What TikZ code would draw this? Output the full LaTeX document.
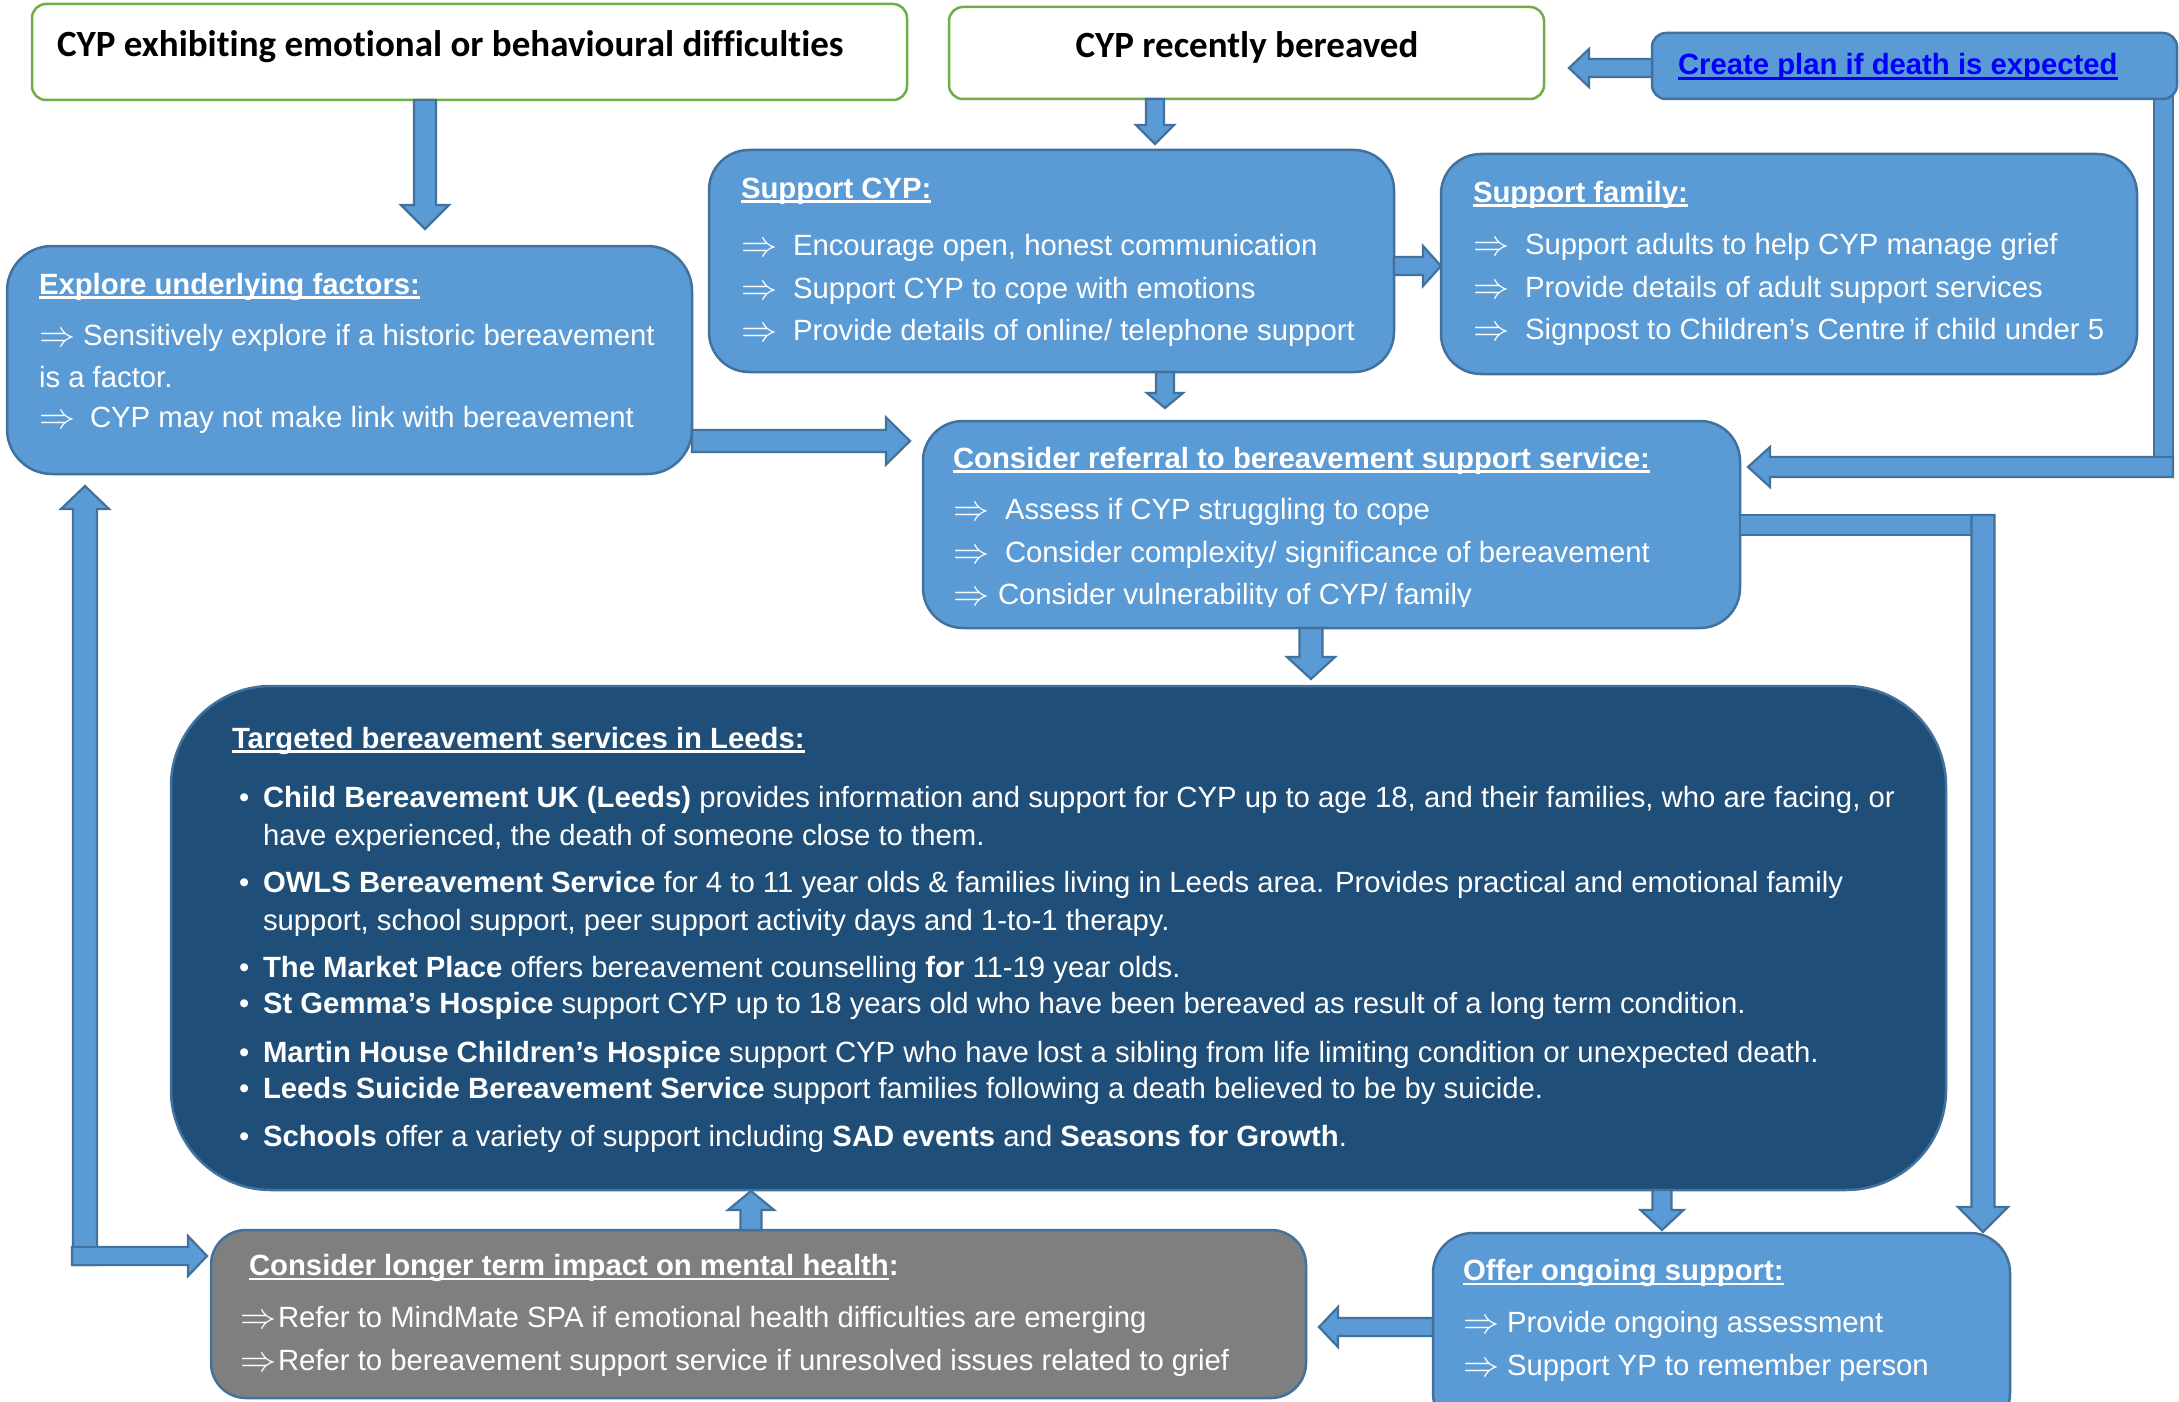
\documentclass[tikz,border=0pt]{standalone}
\usepackage{fontspec}
\setmainfont{Liberation Sans}
\newfontfamily\calibri[Ligatures=NoCommon]{Carlito}
\usetikzlibrary{calc}
\definecolor{bfill}{HTML}{5B9BD5}
\definecolor{bord}{HTML}{41719C}
\definecolor{darkf}{HTML}{1F4E79}
\definecolor{greyf}{HTML}{7F7F7F}
\definecolor{gborder}{HTML}{70AD47}
\definecolor{linkblue}{HTML}{0000FF}
\newcommand\myul[1]{\setbox0\hbox{#1}\rlap{\rule[-0.17em]{\wd0}{0.085em}}\box0}
\newcommand\bodyf{\fontsize{29.3}{35}\selectfont}
\newcommand\darr{\raisebox{-1pt}{\scalebox{1.45}{$\Rightarrow$}}}
\newcommand\blockarrow[5]{%
  \coordinate (bas) at (#1);
  \coordinate (bat) at (#2);
  \coordinate (bah) at ($(bat)!#5pt!(bas)$);
  \filldraw[arrowstyle] ($(bas)!#3pt!90:(bat)$) -- ($(bah)!#3pt!90:(bat)$) -- ($(bah)!#4pt!90:(bat)$) -- (bat) -- ($(bah)!#4pt!-90:(bat)$) -- ($(bah)!#3pt!-90:(bat)$) -- ($(bas)!#3pt!-90:(bat)$) -- cycle;
}
\begin{document}
\begin{tikzpicture}[x=1pt,y=-1pt,
  arrowstyle/.style={fill=bfill,draw=bord,line width=2.2pt,line join=miter},
  topbox/.style={draw=gborder,fill=white,line width=2.5pt,rounded corners=14pt,inner sep=0pt,outer sep=0pt,anchor=north west},
  bluebox/.style={draw=bord,fill=bfill,line width=2.5pt,rounded corners=40pt,inner sep=0pt,outer sep=0pt,anchor=north west},
  txt/.style={anchor=base west,inner sep=0pt,outer sep=0pt,text=white,font=\bodyf},
  ttl/.style={txt,font=\bodyf\bfseries}]
\useasboundingbox (0,0) rectangle (2179,1402);
\fill[white] (0,0) rectangle (2179,1402);

% ---- top boxes
\node[topbox,minimum width=875pt,minimum height=96pt] (cypemo) at (32,4) {};
\node[txt,text=black,font=\calibri\bfseries\fontsize{37}{40}\selectfont] (cypemotxt) at (57,57) {CYP exhibiting emotional or behavioural difficulties};
\node[topbox,minimum width=595pt,minimum height=92pt] (cypbr) at (949,7) {};
\node[txt,anchor=base,text=black,font=\calibri\bfseries\fontsize{37}{40}\selectfont] (cypbrtxt) at (1247,58) {CYP recently bereaved};

% ---- plan box and its connector to referral
\filldraw[arrowstyle] (2154,95) rectangle (2173,477);
\node[bluebox,rounded corners=14pt,minimum width=525pt,minimum height=66pt] (plan) at (1652,33) {};
\node[txt,text=linkblue,font=\bodyf\bfseries] (plantxt) at (1678,75) {\myul{Create plan if death is expected}};
\blockarrow{2173,467}{1748,467}{10}{20}{22}
\blockarrow{plan.west |- 0,68}{1569,68}{9}{19}{20}

% ---- explore box
\node[bluebox,rounded corners=45pt,minimum width=685pt,minimum height=228pt] (explore) at (7,246) {};
\node[ttl] (exptl) at (39,294) {\myul{Explore underlying factors:}};
\node[txt] (expa1) at (39,345) {\darr};
\node[txt] (expl1) at (83,345) {Sensitively explore if a historic bereavement};
\node[txt] (expl2) at (39,387) {is a factor.};
\node[txt] (expa3) at (39,427) {\darr};
\node[txt] (expl3) at (90,427) {CYP may not make link with bereavement};

% ---- support CYP
\node[bluebox,minimum width=685pt,minimum height=222pt] (supcyp) at (709,150) {};
\node[ttl] (suptl) at (741,198) {\myul{Support CYP:}};
\node[txt] (supa1) at (741,255) {\darr};
\node[txt] (supl1) at (793,255) {Encourage open, honest communication};
\node[txt] (supa2) at (741,298) {\darr};
\node[txt] (supl2) at (793,298) {Support CYP to cope with emotions};
\node[txt] (supa3) at (741,340) {\darr};
\node[txt] (supl3) at (793,340) {Provide details of online/ telephone support};

% ---- support family
\node[bluebox,minimum width=696pt,minimum height=220pt] (family) at (1441,154) {};
\node[ttl] (famtl) at (1473,202) {\myul{Support family:}};
\node[txt] (fama1) at (1473,254) {\darr};
\node[txt] (faml1) at (1525,254) {Support adults to help CYP manage grief};
\node[txt] (fama2) at (1473,297) {\darr};
\node[txt] (faml2) at (1525,297) {Provide details of adult support services};
\node[txt] (fama3) at (1473,339) {\darr};
\node[txt] (faml3) at (1525,339) {Signpost to Children’s Centre if child under 5};

% ---- referral
\node[bluebox,minimum width=817pt,minimum height=207pt] (referral) at (923,421) {};
\node[ttl] (reftl) at (953,468) {\myul{Consider referral to bereavement support service:}};
\node[txt] (refa1) at (953,519) {\darr};
\node[txt] (refl1) at (1005,519) {Assess if CYP struggling to cope};
\node[txt] (refa2) at (953,562) {\darr};
\node[txt] (refl2) at (1005,562) {Consider complexity/ significance of bereavement};
\begin{scope}
\clip (923,560) rectangle (1740,606);
\node[txt] (refa3) at (953,604) {\darr};
\node[txt] (refl3) at (998,604) {Consider vulnerability of CYP/ family};
\end{scope}

% ---- targeted services
\node[bluebox,fill=darkf,rounded corners=100pt,minimum width=1775pt,minimum height=504pt] (targeted) at (171,686) {};
\node[ttl] (tgttl) at (232,748) {\myul{Targeted bereavement services in Leeds:}};
\foreach \y/\n in {807/b1,892/b3,977/b5,1013/b6,1062/b7,1098/b8,1146/b9}
  \node[txt] (\n) at (239,\y) {\textbullet};
\node[txt] (tg1) at (263,807) {\textbf{Child Bereavement UK (Leeds)} provides information and support for CYP up to age 18, and their families, who are facing, or};
\node[txt] (tg2) at (263,845) {have experienced, the death of someone close to them.};
\node[txt] (tg3) at (263,892) {\textbf{OWLS Bereavement Service} for 4 to 11 year olds \& families living in Leeds area. Provides practical and emotional family};
\node[txt] (tg4) at (263,930) {support, school support, peer support activity days and 1-to-1 therapy.};
\node[txt] (tg5) at (263,977) {\textbf{The Market Place} offers bereavement counselling \textbf{for} 11-19 year olds.};
\node[txt] (tg6) at (263,1013) {\textbf{St Gemma’s Hospice} support CYP up to 18 years old who have been bereaved as result of a long term condition.};
\node[txt] (tg7) at (263,1062) {\textbf{Martin House Children’s Hospice} support CYP who have lost a sibling from life limiting condition or unexpected death.};
\node[txt] (tg8) at (263,1098) {\textbf{Leeds Suicide Bereavement Service} support families following a death believed to be by suicide.};
\node[txt] (tg9) at (263,1146) {\textbf{Schools} offer a variety of support including \textbf{SAD events} and \textbf{Seasons for Growth}.};

% ---- longer term (grey)
\node[bluebox,fill=greyf,rounded corners=35pt,minimum width=1095pt,minimum height=168pt] (grey) at (211,1230) {};
\node[ttl] (grtl) at (249,1275) {\myul{Consider longer term impact on mental health}:};
\node[txt] (gra1) at (240,1327) {\darr};
\node[txt] (grl1) at (278,1327) {Refer to MindMate SPA if emotional health difficulties are emerging};
\node[txt] (gra2) at (240,1370) {\darr};
\node[txt] (grl2) at (278,1370) {Refer to bereavement support service if unresolved issues related to grief};

% ---- offer ongoing support
\node[bluebox,minimum width=577pt,minimum height=200pt] (offer) at (1433,1233) {};
\node[ttl] (oftl) at (1463,1280) {\myul{Offer ongoing support:}};
\node[txt] (ofa1) at (1463,1332) {\darr};
\node[txt] (ofl1) at (1507,1332) {Provide ongoing assessment};
\node[txt] (ofa2) at (1463,1375) {\darr};
\node[txt] (ofl2) at (1507,1375) {Support YP to remember person};

% ---- connectors
\blockarrow{cypemo.south -| 425,0}{425,229}{11}{24}{24}
\blockarrow{cypbr.south -| 1155,0}{1155,144}{9}{19}{19}
\blockarrow{supcyp.east |- 0,266}{family.west |- 0,266}{9}{20}{18}
\blockarrow{supcyp.south -| 1165,0}{1165,408}{9}{18}{15}
\blockarrow{explore.east |- 0,441}{910,441}{11}{23.5}{24}
\blockarrow{referral.south -| 1311,0}{1311,679}{11.5}{24}{22}
\blockarrow{targeted.south -| 1662,0}{1662,1230}{9.5}{21.5}{20}
\blockarrow{grey.north -| 751,0}{751,1191}{10.5}{23}{19}
\blockarrow{offer.west |- 0,1327}{1319,1327}{9}{20}{19}
% referral -> offer (L shape)
\filldraw[arrowstyle] (referral.east |- 0,515) rectangle (1994,535);
\blockarrow{1983,515}{1983,1232}{11.5}{25}{25}
% grey -> explore (left return) and to grey
\blockarrow{85,1265}{85,486}{12}{24}{23}
\blockarrow{72,1256}{207,1256}{9}{20}{19}
\end{tikzpicture}
\end{document}
